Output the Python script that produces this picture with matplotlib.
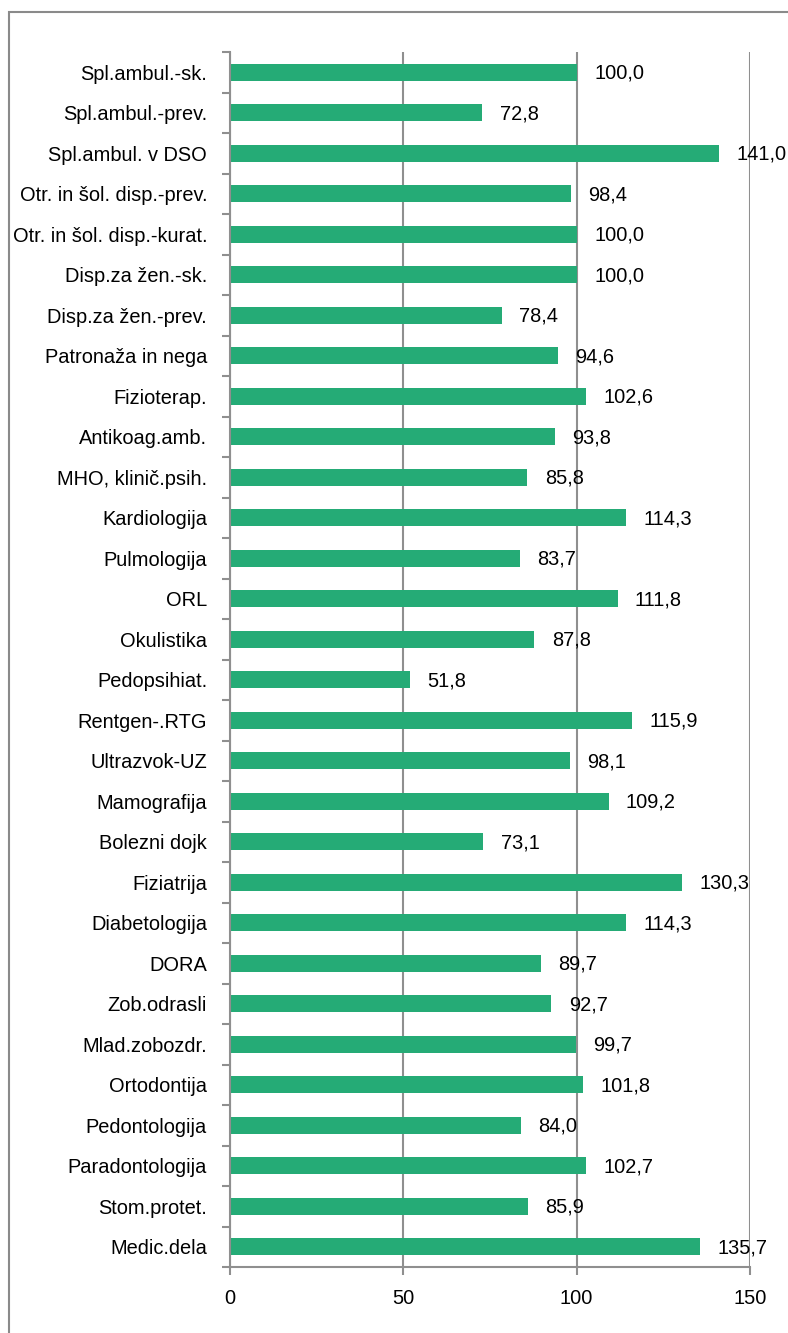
import matplotlib.pyplot as plt
from matplotlib.patches import Rectangle

# indeks realizacije po dejavnostih
dejavnosti = ["Spl.ambul.-sk.", "Spl.ambul.-prev.", "Spl.ambul. v DSO",
              "Otr. in šol. disp.-prev.", "Otr. in šol. disp.-kurat.",
              "Disp.za žen.-sk.", "Disp.za žen.-prev.", "Patronaža in nega",
              "Fizioterap.", "Antikoag.amb.", "MHO, klinič.psih.", "Kardiologija",
              "Pulmologija", "ORL", "Okulistika", "Pedopsihiat.", "Rentgen-.RTG",
              "Ultrazvok-UZ", "Mamografija", "Bolezni dojk", "Fiziatrija",
              "Diabetologija", "DORA", "Zob.odrasli", "Mlad.zobozdr.",
              "Ortodontija", "Pedontologija", "Paradontologija", "Stom.protet.",
              "Medic.dela"]
indeks = [100.0, 72.8, 141.0, 98.4, 100.0, 100.0, 78.4, 94.6, 102.6, 93.8,
          85.8, 114.3, 83.7, 111.8, 87.8, 51.8, 115.9, 98.1, 109.2, 73.1,
          130.3, 114.3, 89.7, 92.7, 99.7, 101.8, 84.0, 102.7, 85.9, 135.7]
x_ticks = [0, 50, 100, 150]

plt.rcParams['font.family'] = ['Liberation Sans', 'DejaVu Sans']
siva = '#8f8f8f'
zelena = '#25ab76'
fs = 14.4

fig = plt.figure(figsize=(7.88, 13.33), dpi=100)
ax = fig.add_axes([230 / 788, 1 - 1267 / 1333, 520 / 788, 1215 / 1333])

n = len(dejavnosti)
pos = list(range(n))
ax.barh(pos, indeks, height=0.42, color=zelena, zorder=2)
for y, v in zip(pos, indeks):
    ax.text(v + 5, y + 0.03, f"{v:.1f}".replace('.', ','), va='center', ha='left',
            fontsize=fs, color='black', zorder=4)

ax.set_ylim(n - 0.5, -0.5)
ax.set_xlim(0, 150)
ax.set_yticks(pos)
ax.set_yticklabels(dejavnosti)
ax.set_yticks([p - 0.5 for p in pos] + [n - 0.5], minor=True)
ax.tick_params(axis='y', which='major', length=0, pad=16.5, labelsize=fs)
ax.tick_params(axis='y', which='minor', length=6, width=1.5, color=siva)
ax.set_xticks(x_ticks)
ax.tick_params(axis='x', length=6, width=1.5, color=siva, pad=10, labelsize=fs)

ax.grid(axis='x', color=siva, linewidth=1.5, zorder=1)
ax.set_axisbelow(True)
for s in ['top', 'right']:
    ax.spines[s].set_visible(False)
for s in ['left', 'bottom']:
    ax.spines[s].set_color(siva)
    ax.spines[s].set_linewidth(1.5)

# okvir grafikona
fig.patches.append(Rectangle((9 / 788, -0.05), 1.1, 1 - 12 / 1333 + 0.05,
                             transform=fig.transFigure, fill=False,
                             edgecolor='#8a8a8a', linewidth=1.5))

fig.savefig('out.png', dpi=100)
